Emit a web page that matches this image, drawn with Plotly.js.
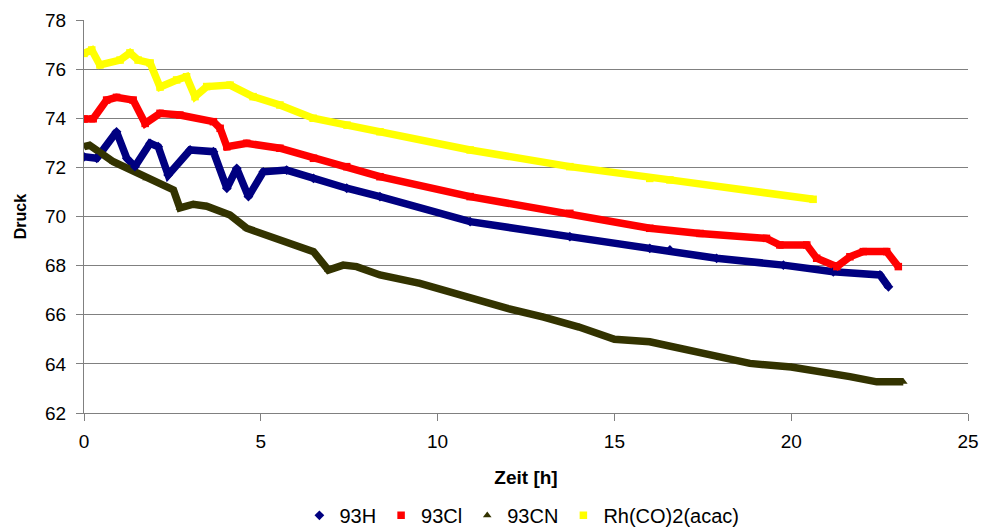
<!DOCTYPE html>
<html><head><meta charset="utf-8">
<script src="https://cdn.plot.ly/plotly-3.0.1.min.js"></script>
<style>html,body{margin:0;padding:0;background:#fff}#c{width:981px;height:528px}</style>
</head><body><div id="c"></div>
<script>
const hX = [0,0.36,0.92,1.21,1.44,1.87,2.1,2.38,3.0,3.66,4.04,4.32,4.65,5.07,5.73,6.49,7.43,8.37,10.92,13.74,16.0,16.57,17.89,19.78,21.19,22.51,22.75];
const hY = [72.43,72.37,73.45,72.37,72.03,72.98,72.84,71.69,72.71,72.64,71.15,71.96,70.81,71.82,71.89,71.55,71.15,70.81,69.79,69.18,68.7,68.64,68.3,68.02,67.75,67.62,67.14];

const clX = [0,0.26,0.64,0.92,1.39,1.73,2.15,2.71,3.66,3.85,4.04,4.6,5.54,6.49,7.43,8.37,10.92,13.74,16.0,17.42,19.3,19.68,20.44,20.72,21.29,21.66,22.04,22.7,23.03];
const clY = [73.97,73.98,74.74,74.85,74.74,73.79,74.2,74.13,73.86,73.59,72.84,72.98,72.78,72.37,72.03,71.62,70.81,70.13,69.52,69.31,69.11,68.84,68.84,68.3,67.96,68.36,68.57,68.57,67.96];

const cnX = [0,0.16,0.83,1.77,2.53,2.71,3.09,3.47,4.13,4.6,6.49,6.91,7.33,7.71,8.37,9.5,10.92,12.0,13.0,14.0,15.0,16.0,18.83,20.0,21.66,22.42,23.17];
const cnY = [72.84,72.9,72.23,71.55,71.08,70.35,70.5,70.42,70.06,69.52,68.57,67.82,68.02,67.96,67.62,67.28,66.67,66.25,65.9,65.5,65.0,64.9,64.02,63.87,63.48,63.27,63.27];

const rhX = [0,0.22,0.45,1.02,1.3,1.53,1.87,2.15,2.62,2.9,3.14,3.47,4.13,4.78,5.54,6.48,7.44,8.37,10.92,13.74,16.0,16.57,20.62];
const rhY = [76.64,76.78,76.17,76.37,76.66,76.37,76.25,75.27,75.56,75.69,74.88,75.29,75.35,74.88,74.54,74.0,73.72,73.45,72.71,72.03,71.55,71.49,70.7];

const names = ['93H','93Cl','93CN','Rh(CO)2(acac)'];
const xs = [hX,clX,cnX,rhX];
const ys = [hY,clY,cnY,rhY];
const colors = ['#000080','#FF0000','#333300','#FFFF00'];
const symbols = ['diamond','square','triangle-up','square'];

const traces = [];
for (let i=0;i<4;i++){
  traces.push({x:xs[i],y:ys[i],type:'scatter',mode:'lines',showlegend:false,hoverinfo:'skip',
    line:{color:colors[i],width:7.5}});
}
for (let i=0;i<4;i++){
  traces.push({x:xs[i],y:ys[i],type:'scatter',mode:'markers',name:names[i],
    marker:{color:colors[i],symbol:symbols[i],size:7.5,line:{width:0}}});
}

const layout = {
  width:981,height:528,
  margin:{l:84,r:13,t:20,b:115},
  paper_bgcolor:'#fff',plot_bgcolor:'#fff',
  font:{family:'Liberation Sans, Arial, sans-serif',size:19,color:'#000'},
  showlegend:true,
  legend:{orientation:'h',x:0.532,xanchor:'center',xref:'container',yref:'container',y:0.024,yanchor:'middle',
    font:{size:20},itemwidth:30,tracegroupgap:0},
  xaxis:{range:[0,25],tickvals:[0,5,10,15,20,25],showgrid:false,zeroline:false,automargin:false,
    showline:true,linecolor:'#808080',linewidth:1,ticks:'outside',ticklen:7,tickcolor:'#808080',
    tickfont:{size:19},ticklabelstandoff:4,
    title:{text:'<b>Zeit [h]</b>',font:{size:19},standoff:19}},
  yaxis:{range:[62,78],dtick:2,showgrid:true,gridcolor:'#808080',gridwidth:1,zeroline:false,automargin:false,
    showline:true,linecolor:'#808080',linewidth:1,ticks:'outside',ticklen:7,tickcolor:'#808080',
    tickfont:{size:19},ticklabelstandoff:6,
    title:{text:'<b>Druck</b>',font:{size:16},standoff:14}}
};
Plotly.newPlot('c',traces,layout,{displayModeBar:false,staticPlot:true});
</script></body></html>
